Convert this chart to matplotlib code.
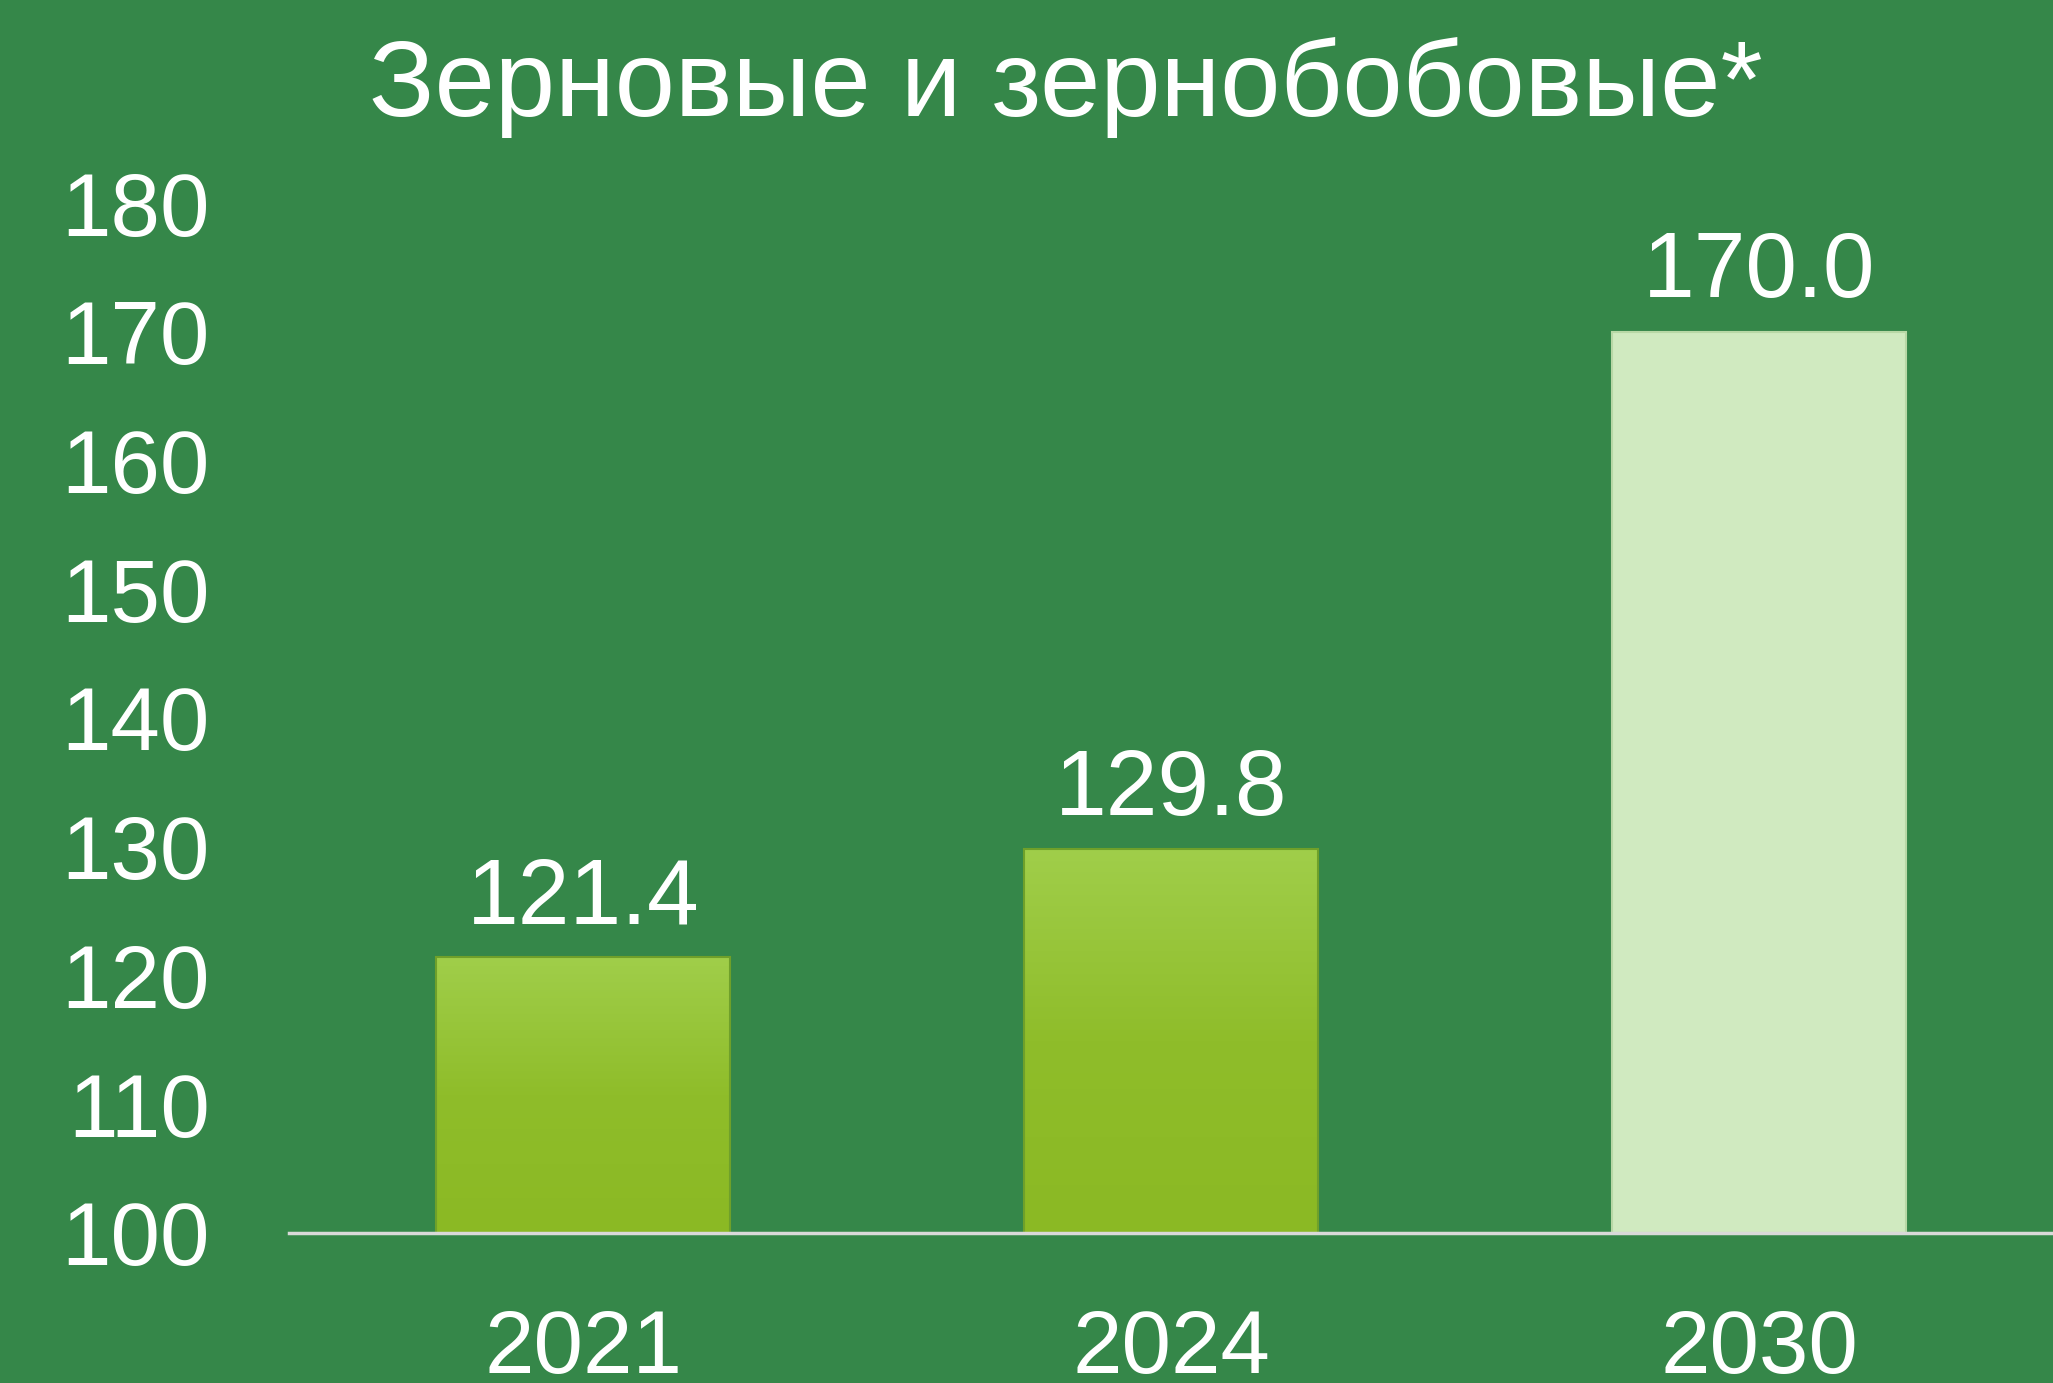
import numpy as np
import matplotlib.pyplot as plt
from matplotlib.colors import LinearSegmentedColormap

years = ['2021', '2024', '2030']
values = [121.4, 129.8, 170.0]
y_ticks = [100, 110, 120, 130, 140, 150, 160, 170, 180]

bg = '#358749'
plt.rcParams['font.family'] = ['Liberation Sans', 'DejaVu Sans']

fig = plt.figure(figsize=(20.53, 13.83), dpi=100, facecolor=bg)
ax = fig.add_axes([0.1408, 0.1085, 0.8592, 0.7447])
ax.set_facecolor(bg)

grad = LinearSegmentedColormap.from_list('g', ['#8bb924', '#8fbd2a', '#a0ce4a'])
width = 0.5
x = np.arange(len(years))
for i, v in enumerate(values):
    if i < 2:
        # gradient bar
        ax.bar(x[i], v - 100, width, bottom=100, color='none',
               edgecolor='#6fa02a', linewidth=1.5, zorder=2)
        g = np.linspace(0, 1, 256).reshape(-1, 1)
        ax.imshow(g, cmap=grad, aspect='auto', origin='lower',
                  extent=(x[i] - width / 2, x[i] + width / 2, 100, v), zorder=1)
    else:
        ax.bar(x[i], v - 100, width, bottom=100, color='#d0eac0',
               edgecolor='#b8d8a6', linewidth=1.5, zorder=2)
    ax.annotate(f'{v:.1f}', (x[i], v), xytext=(0, 11), textcoords='offset points',
                ha='center', va='bottom', fontsize=67, color='white')

ax.set_xlim(-0.5, 2.5)
ax.set_ylim(100, 180)
ax.set_xticks(x)
ax.set_xticklabels(years)
ax.set_yticks(y_ticks)
ax.tick_params(axis='x', length=0, pad=54, labelsize=64, colors='white')
ax.tick_params(axis='y', length=0, pad=57, labelsize=64, colors='white')
for s in ['top', 'right', 'left']:
    ax.spines[s].set_visible(False)
ax.spines['bottom'].set_color('#d9d9d9')
ax.spines['bottom'].set_linewidth(2.5)
ax.spines['bottom'].set_zorder(3)

fig.text(0.519, 0.937, 'Зерновые и зернобобовые*', ha='center', va='center',
         fontsize=78, color='white')

fig.savefig('out.png', dpi=100, facecolor=bg)
